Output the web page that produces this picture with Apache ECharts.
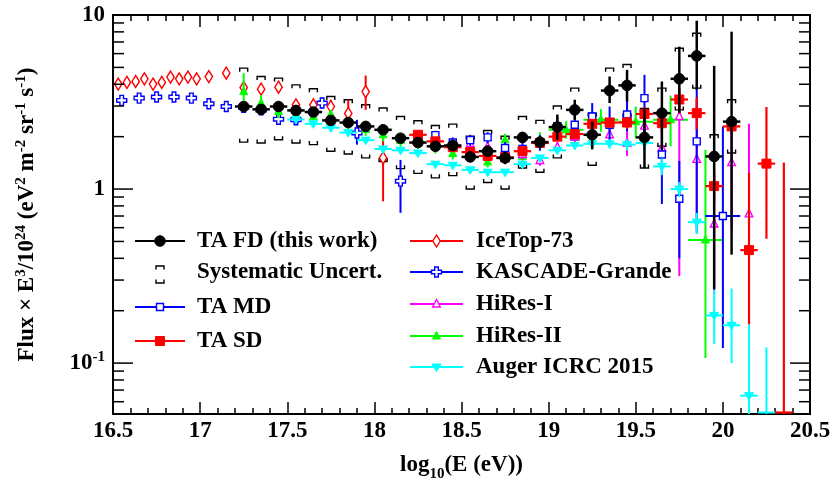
<!DOCTYPE html>
<html>
<head>
<meta charset="utf-8">
<script src="https://cdn.jsdelivr.net/npm/echarts@6/dist/echarts.min.js"></script>
<style>
  html, body { margin: 0; padding: 0; background: #fff; }
  #chart { width: 833px; height: 483px; }
</style>
</head>
<body>
<div id="chart"></div>
<script>
// TA FD (this work)
const fdE = [17.25, 17.35, 17.45, 17.55, 17.65, 17.75, 17.85, 17.95, 18.05, 18.15, 18.25, 18.35, 18.45, 18.55, 18.65, 18.75, 18.85, 18.95, 19.05, 19.15, 19.25, 19.35, 19.45, 19.55, 19.65, 19.75, 19.85, 19.95, 20.05]
const fdFlux = [2.98, 2.87, 2.98, 2.83, 2.77, 2.48, 2.41, 2.29, 2.19, 1.96, 1.85, 1.76, 1.78, 1.53, 1.65, 1.51, 1.98, 1.86, 2.27, 2.85, 2.05, 3.68, 3.94, 1.98, 2.73, 4.30, 5.82, 1.54, 2.44]
const fdHi = [3.10, 2.99, 3.11, 2.96, 2.90, 2.60, 2.53, 2.41, 2.31, 2.07, 1.96, 1.87, 1.90, 1.64, 1.78, 1.64, 2.12, 2.01, 2.68, 3.26, 2.44, 4.43, 4.84, 2.92, 4.15, 6.58, 9.27, 5.10, 8.02]
const fdLo = [2.86, 2.75, 2.86, 2.71, 2.65, 2.37, 2.30, 2.18, 2.08, 1.86, 1.75, 1.66, 1.67, 1.43, 1.53, 1.39, 1.84, 1.72, 1.92, 2.50, 1.69, 3.12, 3.18, 1.32, 1.68, 2.73, 3.72, 0.265, 0.42]
// Systematic uncertainty band edges for the TA FD bins
const sysHi = [4.95, 4.43, 4.34, 3.97, 3.77, 3.40, 3.26, 3.05, 2.92, 2.61, 2.47, 2.32, 2.36, 2.01, 2.17, 2.01, 2.61, 2.48, 3.00, 3.80, 2.73, 4.95, 5.20, 2.90, 3.80, 6.44, 7.85, 2.05, 3.26]
const sysLo = [1.86, 1.84, 1.92, 1.84, 1.80, 1.65, 1.59, 1.51, 1.44, 1.31, 1.23, 1.16, 1.195, 1.00, 1.09, 1.00, 1.32, 1.25, 1.51, 1.92, 1.37, 2.45, 2.60, 1.32, 1.76, 2.85, 3.80, 1.04, 1.61]

// TA MD
const mdE = [18.35, 18.45, 18.55, 18.65, 18.75, 18.85, 18.95, 19.05, 19.15, 19.25, 19.35, 19.45, 19.55, 19.65, 19.75, 19.85, 20.0]
const mdHalf = [0, 0, 0, 0, 0, 0, 0, 0, 0, 0, 0, 0, 0, 0, 0, 0, 0.1]
const mdFlux = [2.04, 1.85, 1.91, 1.98, 1.72, 1.70, 1.85, 2.30, 2.34, 2.61, 2.34, 2.68, 3.33, 1.58, 0.88, 1.88, 0.70]
const mdHi = [2.16, 1.98, 2.05, 2.12, 1.86, 1.86, 2.04, 2.60, 2.68, 3.12, 2.98, 3.30, 4.53, 2.40, 1.45, 3.90, 2.29]
const mdLo = [1.92, 1.72, 1.77, 1.84, 1.58, 1.54, 1.66, 2.00, 2.05, 2.17, 1.92, 2.15, 2.01, 0.82, 0.40, 0.56, 0.122]

// TA SD
const sdE = [18.25, 18.35, 18.45, 18.55, 18.65, 18.75, 18.85, 18.95, 19.05, 19.15, 19.25, 19.35, 19.45, 19.55, 19.65, 19.75, 19.85, 19.95, 20.05, 20.15, 20.25, 20.35]
const sdFlux = [2.05, 1.88, 1.74, 1.63, 1.55, 1.52, 1.65, 1.84, 2.00, 2.07, 2.37, 2.41, 2.41, 2.70, 2.39, 3.27, 2.73, 1.04, 2.29, 0.446, 1.40, 0.03]
const sdHi = [2.10, 1.93, 1.79, 1.68, 1.60, 1.57, 1.71, 1.91, 2.08, 2.17, 2.50, 2.57, 2.60, 2.95, 2.70, 3.80, 3.36, 1.30, 2.55, 1.24, 2.96, 1.42]
const sdLo = [2.00, 1.83, 1.69, 1.58, 1.50, 1.47, 1.59, 1.77, 1.92, 1.97, 2.24, 2.25, 2.22, 2.45, 2.10, 2.72, 2.20, 0.82, 2.05, 0.167, 0.518, 0.03]

// IceTop-73
const itE = [16.53, 16.58, 16.63, 16.68, 16.73, 16.78, 16.83, 16.88, 16.93, 16.98, 17.05, 17.15, 17.25, 17.35, 17.45, 17.55, 17.65, 17.75, 17.85, 17.95, 18.05]
const itFlux = [4.01, 4.10, 4.15, 4.30, 4.01, 4.10, 4.40, 4.30, 4.40, 4.30, 4.43, 4.63, 3.83, 3.75, 3.85, 3.05, 3.05, 2.98, 2.72, 3.63, 1.51]
const itHi = [4.06, 4.15, 4.20, 4.36, 4.06, 4.16, 4.46, 4.36, 4.47, 4.37, 4.51, 4.73, 3.93, 3.87, 4.00, 3.22, 3.20, 3.26, 3.26, 4.49, 1.95]
const itLo = [3.96, 4.05, 4.10, 4.24, 3.96, 4.04, 4.34, 4.24, 4.33, 4.23, 4.35, 4.53, 3.73, 3.63, 3.70, 2.88, 2.90, 2.72, 2.45, 2.85, 0.85]

// KASCADE-Grande
const kgE = [16.55, 16.65, 16.75, 16.85, 16.95, 17.05, 17.15, 17.25, 17.35, 17.45, 17.55, 17.70, 17.90, 18.15]
const kgFlux = [3.23, 3.33, 3.38, 3.38, 3.33, 3.09, 2.98, 2.95, 2.85, 2.52, 2.50, 3.12, 2.10, 1.11]
const kgHi = [3.26, 3.36, 3.42, 3.42, 3.38, 3.14, 3.04, 3.02, 2.94, 2.65, 2.65, 3.35, 2.50, 1.47]
const kgLo = [3.20, 3.30, 3.34, 3.34, 3.28, 3.04, 2.92, 2.88, 2.76, 2.40, 2.36, 2.90, 1.80, 0.73]

// HiRes-I
const h1E = [18.55, 18.65, 18.75, 18.85, 18.95, 19.05, 19.15, 19.25, 19.35, 19.45, 19.55, 19.65, 19.75, 19.85, 19.95, 20.05, 20.15]
const h1Flux = [1.82, 1.75, 1.70, 1.58, 1.46, 1.74, 2.00, 2.35, 2.05, 1.84, 2.30, 1.72, 2.61, 1.48, 0.63, 1.42, 0.72]
const h1Hi = [1.92, 1.85, 1.80, 1.68, 1.56, 1.86, 2.15, 2.55, 2.25, 2.20, 2.70, 2.61, 3.20, 3.26, 1.20, 2.20, 2.37]
const h1Lo = [1.72, 1.65, 1.60, 1.48, 1.36, 1.62, 1.85, 2.15, 1.85, 1.55, 1.90, 1.19, 0.316, 0.60, 0.25, 0.60, 0.30]

// HiRes-II
const h2E = [17.25, 17.35, 17.45, 17.55, 17.65, 17.75, 17.85, 17.95, 18.05, 18.15, 18.25, 18.35, 18.45, 18.55, 18.65, 18.75, 18.85, 18.95, 19.1, 19.3, 19.5, 19.7, 19.9]
const h2Half = [0, 0, 0, 0, 0, 0, 0, 0, 0, 0, 0, 0, 0, 0, 0, 0, 0, 0, 0.1, 0.1, 0.1, 0.1, 0.1]
const h2Flux = [3.63, 3.12, 2.79, 2.70, 2.60, 2.68, 2.40, 2.20, 2.05, 1.90, 1.85, 1.75, 1.60, 1.60, 1.43, 1.92, 1.54, 1.90, 2.19, 2.50, 2.44, 2.50, 0.51]
const h2Hi = [4.63, 3.45, 3.05, 2.95, 2.85, 2.85, 2.60, 2.40, 2.22, 2.05, 2.00, 1.90, 1.72, 1.72, 1.53, 2.08, 1.66, 2.12, 2.45, 2.88, 2.98, 3.44, 1.68]
const h2Lo = [2.98, 2.80, 2.55, 2.48, 2.38, 2.50, 2.20, 2.02, 1.88, 1.75, 1.70, 1.60, 1.48, 1.48, 1.33, 1.77, 1.42, 1.70, 1.95, 2.13, 1.97, 1.76, 0.107]

// Auger ICRC 2015
const auE = [17.55, 17.65, 17.75, 17.85, 17.95, 18.05, 18.15, 18.25, 18.35, 18.45, 18.55, 18.65, 18.75, 18.85, 18.95, 19.05, 19.15, 19.25, 19.35, 19.45, 19.55, 19.65, 19.75, 19.85, 19.95, 20.05, 20.15, 20.25]
const auFlux = [2.51, 2.37, 2.25, 2.11, 1.91, 1.70, 1.67, 1.61, 1.39, 1.37, 1.29, 1.25, 1.25, 1.39, 1.51, 1.67, 1.78, 1.82, 1.82, 1.80, 1.84, 1.35, 1.00, 0.645, 0.188, 0.165, 0.065, 0.03]
const auHi = [2.56, 2.42, 2.29, 2.15, 1.95, 1.73, 1.70, 1.64, 1.42, 1.40, 1.32, 1.28, 1.28, 1.43, 1.56, 1.73, 1.86, 1.91, 1.93, 1.93, 2.00, 1.50, 1.10, 0.73, 0.265, 0.268, 0.167, 0.123]
const auLo = [2.46, 2.32, 2.21, 2.07, 1.87, 1.67, 1.64, 1.58, 1.36, 1.34, 1.26, 1.22, 1.22, 1.35, 1.46, 1.61, 1.70, 1.73, 1.71, 1.67, 1.68, 1.20, 0.90, 0.55, 0.129, 0.10, 0.03, 0.03]

// axes
const xTicks = [16.5, 17, 17.5, 18, 18.5, 19, 19.5, 20, 20.5]
const yTickVals = [0.06, 0.07, 0.08, 0.09, 0.1, 0.2, 0.3, 0.4, 0.5, 0.6, 0.7, 0.8, 0.9, 1, 2, 3, 4, 5, 6, 7, 8, 9, 10]

const X_MIN = 16.5, X_MAX = 20.5, Y_MIN = 0.051, Y_MAX = 10
const FONT = '"Liberation Serif", "Times New Roman", serif'
const BLACK = '#000000', BLUE = '#0000ff', RED = '#ff0000', MAGENTA = '#ff00ff', GREEN = '#00ff00', CYAN = '#00ffff'

function rows(E, F, lo, hi, half) {
  return E.map((e, i) => {
    const h = Array.isArray(half) ? half[i] : half
    return [e, F[i], e - h, e + h, lo[i], hi[i]]
  })
}

function marker(kind, x, y, color) {
  const open = { stroke: color, fill: '#ffffff', lineWidth: 1.4 }
  const full = { fill: color, stroke: color, lineWidth: 1 }
  switch (kind) {
    case 'circle':
      return { type: 'circle', shape: { cx: x, cy: y, r: 5.3 }, style: full }
    case 'squareOpen':
      return { type: 'rect', shape: { x: x - 3.5, y: y - 3.5, width: 7, height: 7 }, style: open }
    case 'squareFill':
      return { type: 'rect', shape: { x: x - 4.5, y: y - 4.5, width: 9, height: 9 }, style: full }
    case 'diamondOpen':
      return { type: 'polygon', shape: { points: [[x, y - 6], [x + 3.7, y], [x, y + 6], [x - 3.7, y]] }, style: open }
    case 'crossOpen': {
      const a = 5, b = 1.8
      return { type: 'polygon', shape: { points: [[x - b, y - a], [x + b, y - a], [x + b, y - b], [x + a, y - b], [x + a, y + b], [x + b, y + b], [x + b, y + a], [x - b, y + a], [x - b, y + b], [x - a, y + b], [x - a, y - b], [x - b, y - b]] }, style: open }
    }
    case 'triUpOpen':
      return { type: 'polygon', shape: { points: [[x, y - 4.5], [x + 3.8, y + 3], [x - 3.8, y + 3]] }, style: open }
    case 'triUpFill':
      return { type: 'polygon', shape: { points: [[x, y - 4.5], [x + 4, y + 3], [x - 4, y + 3]] }, style: full }
    case 'triDownFill':
      return { type: 'polygon', shape: { points: [[x - 4.5, y - 3], [x + 4.5, y - 3], [x, y + 4.5]] }, style: full }
  }
}

function seg(a, b, color, lw) {
  return { type: 'line', shape: { x1: a[0], y1: a[1], x2: b[0], y2: b[1] }, style: { stroke: color, lineWidth: lw } }
}

// points with x/y error bars; values below the frame keep only their bars (drawn on the frame edge)
function errorSeries(name, data, kind, color, lw, z) {
  return {
    type: 'custom', name, data, z, clip: true,
    encode: { x: 0, y: 1 },
    renderItem(params, api) {
      const x = api.value(0), yv = api.value(1)
      const below = yv < Y_MIN
      const y = Math.max(yv, Y_MIN)
      const p = api.coord([x, y])
      const kids = []
      const yl = Math.max(api.value(4), Y_MIN), yh = api.value(5)
      if (yh > yl) kids.push(seg(api.coord([x, yh]), api.coord([x, yl]), color, lw))
      if (api.value(3) > api.value(2)) {
        const a = api.coord([api.value(2), y]), b = api.coord([api.value(3), y])
        const dy = below ? -1.5 : 0
        kids.push(seg([a[0], a[1] + dy], [b[0], b[1] + dy], color, lw))
      }
      if (!below) kids.push(marker(kind, p[0], p[1], color))
      return { type: 'group', children: kids }
    }
  }
}

function bracket(cx, cy, dir) {
  const w = 4, t = 3.5
  return { type: 'polyline', shape: { points: [[cx - w, cy + dir * t], [cx - w, cy], [cx + w, cy], [cx + w, cy + dir * t]] }, style: { stroke: BLACK, lineWidth: 1.4, fill: null } }
}

const sysSeries = {
  type: 'custom', name: 'Systematic Uncert.', z: 2, clip: true,
  data: fdE.map((e, i) => [e, sysLo[i], sysHi[i]]),
  encode: { x: 0, y: 1 },
  renderItem(params, api) {
    const hi = api.coord([api.value(0), api.value(2)])
    const lo = api.coord([api.value(0), api.value(1)])
    return { type: 'group', children: [bracket(hi[0], hi[1], 1), bracket(lo[0], lo[1], -1)] }
  }
}

// ROOT-style log ticks on left and right frame edges
const yTickSeries = {
  type: 'custom', z: 20, clip: false, silent: true,
  data: yTickVals.map(v => [X_MIN, v]),
  encode: { x: 0, y: 1 },
  renderItem(params, api) {
    const v = api.value(1)
    const lg = Math.log10(v)
    const len = Math.abs(lg - Math.round(lg)) < 1e-6 ? 20 : 11
    const l = api.coord([X_MIN, v]), r = api.coord([X_MAX, v])
    return { type: 'group', children: [
      seg(l, [l[0] + len, l[1]], BLACK, 1.5),
      seg([r[0] - len, r[1]], r, BLACK, 1.5),
    ] }
  }
}

const labelFont = { fontFamily: FONT, fontWeight: 'bold', fontSize: 23, color: BLACK }
const supStyle = { fontFamily: FONT, fontWeight: 'bold', fontSize: 15, color: BLACK, verticalAlign: 'top', lineHeight: 26 }
const baseStyle = { fontFamily: FONT, fontWeight: 'bold', fontSize: 23, color: BLACK, lineHeight: 26 }

// legend layout
const legendCols = [
  { x0: 135, x1: 185, tx: 197, items: [
    { label: 'TA FD (this work)', kind: 'circle', color: BLACK, y: 241 },
    { label: 'Systematic Uncert.', kind: 'sys', color: BLACK, y: 272 },
    { label: 'TA MD', kind: 'squareOpen', color: BLUE, y: 307 },
    { label: 'TA SD', kind: 'squareFill', color: RED, y: 341 },
  ] },
  { x0: 410, x1: 463, tx: 476, items: [
    { label: 'IceTop-73', kind: 'diamondOpen', color: RED, y: 241 },
    { label: 'KASCADE-Grande', kind: 'crossOpen', color: BLUE, y: 272 },
    { label: 'HiRes-I', kind: 'triUpOpen', color: MAGENTA, y: 304 },
    { label: 'HiRes-II', kind: 'triUpFill', color: GREEN, y: 336 },
    { label: 'Auger ICRC 2015', kind: 'triDownFill', color: CYAN, y: 367 },
  ] },
]
const legendGraphics = []
legendCols.forEach(col => {
  const mx = (col.x0 + col.x1) / 2
  col.items.forEach(it => {
    if (it.kind === 'sys') {
      legendGraphics.push(bracket(mx, it.y - 6, 1), bracket(mx, it.y + 11, -1))
    } else {
      legendGraphics.push(seg([col.x0, it.y], [col.x1, it.y], it.color, 2))
      legendGraphics.push(marker(it.kind, mx, it.y, it.color))
    }
    legendGraphics.push({
      type: 'text', x: col.tx, y: it.y,
      style: { text: it.label, fill: BLACK, font: 'bold 23px ' + FONT, verticalAlign: 'middle', textVerticalAlign: 'middle' }
    })
  })
})

const chart = echarts.init(document.getElementById('chart'), null, { renderer: 'canvas' })

const xAxisBase = {
  type: 'value', min: X_MIN, max: X_MAX, interval: 0.5,
  axisLine: { lineStyle: { color: BLACK, width: 2 } },
  axisTick: { inside: true, length: 12, lineStyle: { color: BLACK, width: 1.5 } },
  minorTick: { show: true, splitNumber: 5, length: 6, lineStyle: { color: BLACK, width: 1.5 } },
  splitLine: { show: false },
}

chart.setOption({
  animation: false,
  backgroundColor: '#ffffff',
  grid: { left: 113, right: 23, top: 15, bottom: 69, outerBoundsMode: 'none' },
  xAxis: [
    {
      ...xAxisBase, position: 'bottom',
      axisLabel: { ...labelFont, margin: 6, formatter: v => (xTicks.includes(v) ? String(v) : '') },
      name: 'log{sub|10}(E (eV))', nameLocation: 'middle', nameGap: 34,
      nameTextStyle: { rich: { b: baseStyle, sub: { ...supStyle, verticalAlign: 'bottom', lineHeight: 34 } }, ...baseStyle },
    },
    { ...xAxisBase, position: 'top', axisLabel: { show: false } },
  ],
  yAxis: [
    {
      type: 'log', logBase: 10, min: Y_MIN, max: Y_MAX, position: 'left',
      axisLine: { lineStyle: { color: BLACK, width: 2 } },
      axisTick: { show: false }, splitLine: { show: false },
      axisLabel: {
        ...labelFont, margin: 8,
        formatter: v => {
          const l = Math.log10(v), r = Math.round(l)
          if (Math.abs(l - r) > 1e-6) return ''
          if (r === 0) return '1'
          if (r === 1) return '10'
          return '{b|10}{s|' + r + '}'
        },
        rich: { b: baseStyle, s: supStyle },
      },
      name: '{b|Flux × E}{s|3}{b|/10}{s|24}{b| (eV}{s|2}{b| m}{s|-2}{b| sr}{s|-1}{b| s}{s|-1}{b|)}',
      nameLocation: 'middle', nameRotate: 90, nameGap: 73,
      nameTextStyle: { rich: { b: baseStyle, s: supStyle } },
    },
    {
      type: 'log', logBase: 10, min: Y_MIN, max: Y_MAX, position: 'right',
      axisLine: { lineStyle: { color: BLACK, width: 2 } },
      axisTick: { show: false }, axisLabel: { show: false }, splitLine: { show: false },
    },
  ],
  graphic: legendGraphics,
  series: [
    sysSeries,
    errorSeries('KASCADE-Grande', rows(kgE, kgFlux, kgLo, kgHi, 0), 'crossOpen', BLUE, 2, 3),
    errorSeries('IceTop-73', rows(itE, itFlux, itLo, itHi, 0), 'diamondOpen', RED, 2, 4),
    errorSeries('HiRes-II', rows(h2E, h2Flux, h2Lo, h2Hi, h2Half), 'triUpFill', GREEN, 2, 5),
    errorSeries('HiRes-I', rows(h1E, h1Flux, h1Lo, h1Hi, 0), 'triUpOpen', MAGENTA, 2, 6),
    errorSeries('TA MD', rows(mdE, mdFlux, mdLo, mdHi, mdHalf), 'squareOpen', BLUE, 2, 7),
    errorSeries('Auger ICRC 2015', rows(auE, auFlux, auLo, auHi, 0.05), 'triDownFill', CYAN, 2, 8),
    errorSeries('TA SD', rows(sdE, sdFlux, sdLo, sdHi, 0.05), 'squareFill', RED, 2.2, 9),
    errorSeries('TA FD (this work)', rows(fdE, fdFlux, fdLo, fdHi, 0.05), 'circle', BLACK, 2.5, 10),
    yTickSeries,
  ],
})
</script>
</body>
</html>
